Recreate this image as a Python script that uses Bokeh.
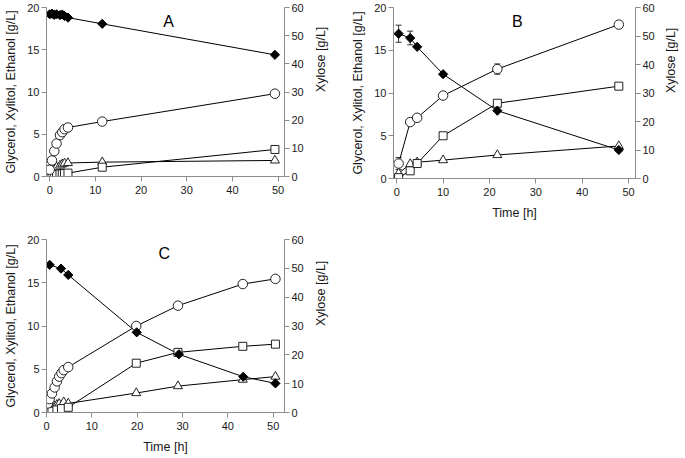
import math
from bokeh.plotting import figure
from bokeh.models import Range1d, LinearAxis, Label, Whisker, ColumnDataSource, TeeHead, FixedTicker
from bokeh.layouts import column, row
from bokeh.embed import file_html
from bokeh.resources import INLINE

# ---------------- data ----------------
# Panel A
a_t = [0, 0.5, 1, 1.5, 2.25, 2.75, 3.25, 4, 11.5, 49.3]
a_xylose = [57.6, 57.8, 57.4, 57.6, 57.3, 57.5, 57.0, 56.4, 54.2, 43.2]
a_ethanol = [0.8, 1.9, 3.0, 3.9, 4.9, 5.25, 5.6, 5.8, 6.5, 9.8]
a_xylitol = [0.1, 0.15, 0.2, 0.25, 0.3, 0.3, 0.35, 0.4, 1.1, 3.2]
a_glycerol = [0.3, 0.6, 0.9, 1.1, 1.3, 1.45, 1.55, 1.6, 1.7, 1.9]

# Panel B
b_t = [0.4, 2.9, 4.4, 10, 21.7, 47.9]
b_xylose = [50.8, 49.3, 46.2, 36.6, 23.8, 10.0]
b_ethanol = [1.75, 6.6, 7.1, 9.7, 12.8, 18.0]
b_xylitol = [0.1, 0.9, 1.75, 5.0, 8.8, 10.8]
b_glycerol = [0.6, 1.7, 1.9, 2.15, 2.75, 3.8]

# Panel C
c_t_xylose = [0.7, 3.2, 4.8, 19.9, 29.2, 43.4, 50.5]
c_xylose = [51.2, 49.9, 47.7, 27.8, 20.2, 12.4, 10.1]
c_t_ethanol = [0.3, 0.7, 1.2, 1.8, 2.3, 2.8, 3.3, 3.8, 4.8, 19.8, 29.0, 43.3, 50.5]
c_ethanol = [1.05, 1.55, 2.2, 2.9, 3.6, 4.15, 4.55, 4.9, 5.25, 10.0, 12.35, 14.85, 15.45]
c_t_xylitol = [0.3, 1.2, 2.3, 3.3, 4.8, 19.8, 29.0, 43.3, 50.5]
c_xylitol = [0.05, 0.15, 0.3, 0.45, 0.6, 5.7, 6.95, 7.65, 7.9]
c_t_glycerol = [0.7, 1.8, 2.3, 2.8, 3.8, 4.8, 19.8, 29.0, 43.3, 50.5]
c_glycerol = [0.4, 0.7, 0.9, 1.0, 1.2, 1.05, 2.25, 3.05, 3.8, 4.15]

# error bars: (time, value, half-width, on xylose axis?)
a_err = [(49.3, 3.2, 0.45, False)]
b_err = [(0.4, 50.8, 3.0, True), (2.9, 49.3, 2.4, True), (21.7, 12.8, 0.6, False),
         (0.4, 1.75, 0.7, False)]
c_err = []

left_ticks = [0, 5, 10, 15, 20]
right_ticks = [0, 10, 20, 30, 40, 50, 60]
x_ticks = [0, 10, 20, 30, 40, 50]

LEFT_TITLE = "Glycerol, Xylitol, Ethanol [g/L]"
RIGHT_TITLE = "Xylose [g/L]"
X_TITLE = "Time [h]"

FONT = "Liberation Sans"
AXC = "#8c8c8c"


def style_axis(ax, title, label_standoff=2, standoff=6):
    ax.axis_line_color = AXC
    ax.major_tick_line_color = AXC
    ax.minor_tick_line_color = None
    ax.major_tick_out = 5
    ax.major_tick_in = 0
    ax.major_label_text_font = FONT
    ax.major_label_text_font_size = "11px"
    ax.major_label_text_color = "#1a1a1a"
    ax.major_label_standoff = label_standoff
    ax.axis_label = title
    ax.axis_label_text_font = FONT
    ax.axis_label_text_font_size = "12.5px"
    ax.axis_label_text_font_style = "normal"
    ax.axis_label_text_color = "#1a1a1a"
    ax.axis_label_standoff = standoff


def make_panel(letter, xr, fw, fh, borders, series, errs, xtitle, rstandoff):
    p = figure(frame_width=fw, frame_height=fh, output_backend="svg", toolbar_location=None,
               x_range=Range1d(*xr), y_range=Range1d(0, 20),
               min_border_left=borders[0], min_border_right=borders[1],
               min_border_top=borders[2], min_border_bottom=borders[3])
    p.extra_y_ranges = {"xyl": Range1d(0, 60)}
    p.outline_line_color = None
    p.xgrid.visible = False
    p.ygrid.visible = False
    p.background_fill_color = "white"
    p.border_fill_color = "white"

    style_axis(p.yaxis[0], LEFT_TITLE, 2, 6)
    p.yaxis[0].ticker = FixedTicker(ticks=left_ticks)
    style_axis(p.xaxis[0], xtitle, 4, 7)
    p.xaxis[0].ticker = FixedTicker(ticks=x_ticks)
    if not xtitle:
        p.xaxis[0].axis_label = None
    rax = LinearAxis(y_range_name="xyl", ticker=FixedTicker(ticks=right_ticks))
    style_axis(rax, RIGHT_TITLE, 2, rstandoff)
    rax.axis_label_orientation = math.pi / 2
    p.add_layout(rax, "right")

    # error bars
    for (t, v, e, on_x) in errs:
        src = ColumnDataSource(dict(x=[t], lo=[v - e], hi=[v + e]))
        kw = {"y_range_name": "xyl"} if on_x else {}
        w = Whisker(source=src, base="x", lower="lo", upper="hi", line_color="#333333",
                    line_width=1,
                    lower_head=TeeHead(size=6, line_color="#333333", line_width=1),
                    upper_head=TeeHead(size=6, line_color="#333333", line_width=1), **kw)
        p.add_layout(w)

    (tx, xyl), (te, eth), (tl, xyt), (tg, gly) = series
    # lines
    p.line(tg, gly, line_color="black", line_width=1)
    p.line(tl, xyt, line_color="black", line_width=1)
    p.line(te, eth, line_color="black", line_width=1)
    p.line(tx, xyl, line_color="black", line_width=1, y_range_name="xyl")
    # markers
    p.scatter(tg, gly, marker="triangle", size=9, fill_color="white", line_color="#222222", line_width=1)
    p.scatter(tl, xyt, marker="square", size=8, fill_color="white", line_color="#222222", line_width=1)
    p.scatter(te, eth, marker="circle", size=9.5, fill_color="white", line_color="#222222", line_width=1)
    p.scatter(tx, xyl, marker="square", angle=math.pi / 4, size=6.5, fill_color="black",
              line_color="black", line_width=1, y_range_name="xyl")

    p.add_layout(Label(x=26, y=18.4, text=letter, text_font=FONT, text_font_size="16px",
                       text_align="center", text_baseline="middle", text_color="black"))
    return p


# borders: (left, right, top, bottom)
pA = make_panel("A", (-0.7, 51.4), 238, 169, (46, 56, 7, 50),
                [(a_t, a_xylose), (a_t, a_ethanol), (a_t, a_xylitol), (a_t, a_glycerol)],
                a_err, None, 14)
pB = make_panel("B", (-0.7, 51.5), 242, 171, (53, 49, 7, 48),
                [(b_t, b_xylose), (b_t, b_ethanol), (b_t, b_xylitol), (b_t, b_glycerol)],
                b_err, X_TITLE, 13)
pC = make_panel("C", (0, 52.5), 238, 173, (46, 56, 13, 45),
                [(c_t_xylose, c_xylose), (c_t_ethanol, c_ethanol),
                 (c_t_xylitol, c_xylitol), (c_t_glycerol, c_glycerol)],
                c_err, X_TITLE, 14)

layout = column(row(pA, pB, spacing=0), pC, spacing=0)
open("out.html", "w").write(file_html(layout, INLINE))
